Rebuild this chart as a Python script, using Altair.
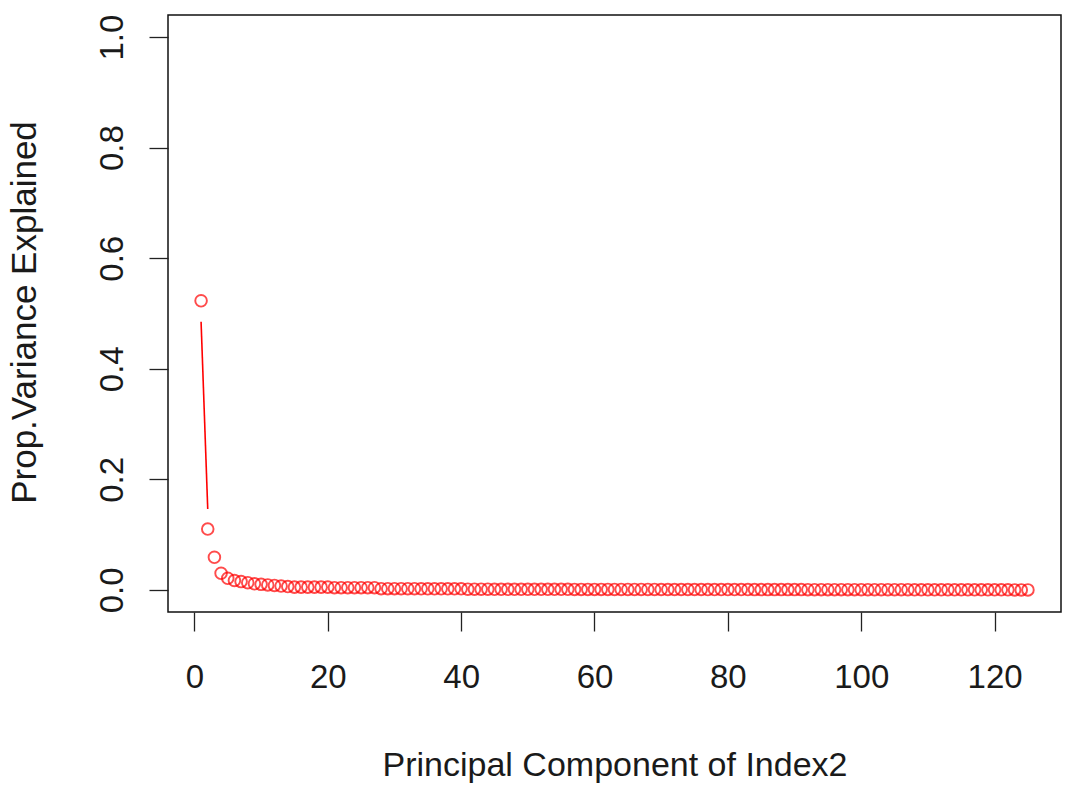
import altair as alt
import pandas as pd

# Proportion of variance explained by each principal component
prop_var = [
    0.523, 0.110, 0.059, 0.030, 0.021, 0.017, 0.015, 0.013, 0.011, 0.010,
    0.009, 0.008, 0.007, 0.006, 0.005, 0.005, 0.005, 0.005, 0.005, 0.005,
    0.004, 0.004, 0.004, 0.004, 0.004, 0.004, 0.004, 0.0022, 0.0022, 0.0022,
    0.0021, 0.0021, 0.0021, 0.0020, 0.0020, 0.0020, 0.0020, 0.0019, 0.0019, 0.0019,
    0.0012, 0.0012, 0.0012, 0.0012, 0.0011, 0.0011, 0.0011, 0.0011, 0.0011, 0.0011,
    0.0010, 0.0010, 0.0010, 0.0010, 0.0010, 0.0010, 0.0009, 0.0009, 0.0009, 0.0009,
    0.0009, 0.0009, 0.0008, 0.0008, 0.0008, 0.0008, 0.0008, 0.0008, 0.0008, 0.0007,
    0.0007, 0.0007, 0.0007, 0.0007, 0.0007, 0.0007, 0.0006, 0.0006, 0.0006, 0.0006,
    0.0006, 0.0006, 0.0006, 0.0005, 0.0005, 0.0005, 0.0005, 0.0005, 0.0005, 0.0005,
    0.0005, 0.0004, 0.0004, 0.0004, 0.0004, 0.0004, 0.0004, 0.0004, 0.0004, 0.0003,
    0.0003, 0.0003, 0.0003, 0.0003, 0.0003, 0.0003, 0.0003, 0.0002, 0.0002, 0.0002,
    0.0002, 0.0002, 0.0002, 0.0002, 0.0002, 0.0001, 0.0001, 0.0001, 0.0001, 0.0001,
    0.0001, 0.0001, 0.0000, 0.0000, 0.0000,
]
components = list(range(1, len(prop_var) + 1))
x_ticks = [0, 20, 40, 60, 80, 100, 120]
y_ticks = [0.0, 0.2, 0.4, 0.6, 0.8, 1.0]

df = pd.DataFrame({"pc": components, "pve": prop_var})
seg = pd.DataFrame({
    "pc0": components[:-1], "pc1": components[1:],
    "v0": prop_var[:-1], "v1": prop_var[1:],
})

FONT = "Liberation Sans"
RED = "#ff0000"
TXT = "#1a1a1a"
FS = 33

xscale = alt.Scale(domain=[-3.96, 129.96], nice=False, zero=False)
yscale = alt.Scale(domain=[-0.04, 1.04], nice=False, zero=False)

xaxis = alt.Axis(
    values=x_ticks, format="d", grid=False, domain=False,
    tickSize=19, tickWidth=1.3, tickColor="#222",
    labelFontSize=FS, labelFont=FONT, labelColor=TXT,
    labelBaseline="alphabetic", labelPadding=56,
    title="Principal Component of Index2", titleFont=FONT, titleFontSize=34,
    titleFontWeight="normal", titleColor=TXT, titleBaseline="alphabetic",
    titleY=163,
)
yaxis = alt.Axis(
    values=y_ticks, format=".1f", grid=False, domain=False,
    tickSize=19, tickWidth=1.3, tickColor="#222",
    labelFontSize=FS, labelFont=FONT, labelColor=TXT, labelAngle=270,
    labelAlign="center", labelBaseline="alphabetic", labelPadding=27,
    title="Prop.Variance Explained", titleFont=FONT, titleFontSize=35,
    titleFontWeight="normal", titleColor=TXT, titleAngle=270,
    titleAlign="center", titleBaseline="alphabetic", titleX=-133, titleY=297,
)

points = alt.Chart(df).mark_point(
    shape="circle", filled=False, color=RED, size=135, strokeWidth=1.9
).encode(
    x=alt.X("pc:Q", scale=xscale, axis=xaxis),
    y=alt.Y("pve:Q", scale=yscale, axis=yaxis),
)

lines = alt.Chart(seg).transform_filter(
    "datum.v0 - datum.v1 > 0.072"
).mark_rule(color=RED, strokeWidth=1.6, yOffset=21, y2Offset=-20).encode(
    x=alt.X("pc0:Q", scale=xscale),
    x2="pc1:Q",
    y=alt.Y("v0:Q", scale=yscale),
    y2="v1:Q",
)

chart = alt.layer(lines, points).properties(
    width=893, height=597,
    autosize="none",
    padding={"left": 168, "top": 15, "right": 9, "bottom": 174},
).configure(
    background="white",
    view=alt.ViewConfig(stroke="#111", strokeWidth=1.5),
)

chart.save("out.html", embed_options={"renderer": "svg", "actions": False})
